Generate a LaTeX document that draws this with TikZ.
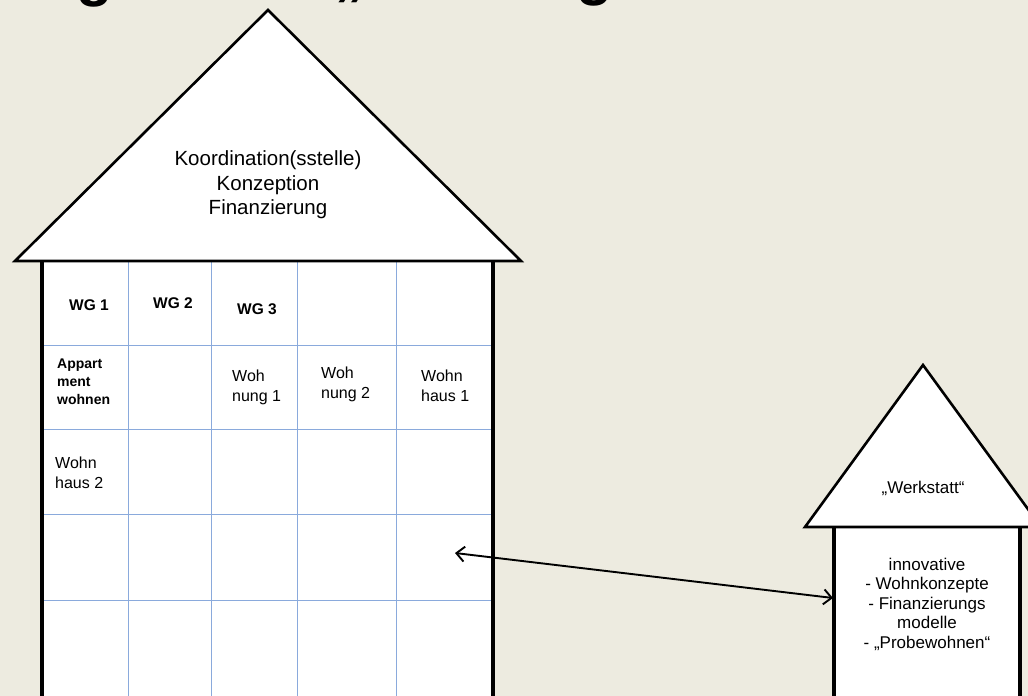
\documentclass[tikz,border=0pt]{standalone}
\usepackage{fontspec}
\setmainfont{Liberation Sans}
\usetikzlibrary{arrows.meta}

\definecolor{paper}{RGB}{237,235,224}
\definecolor{gridblue}{RGB}{138,170,220}

\tikzset{
  wall/.style={draw=black, line width=3.2pt},
  roof/.style={draw=black, fill=white, line width=2.6pt, line join=miter},
  gridline/.style={draw=gridblue, line width=1pt},
  cell/.style={inner sep=0pt, align=left, anchor=north west, font=\fontsize{16}{20}\selectfont},
  cellbold/.style={inner sep=0pt, font=\bfseries\fontsize{15.5}{19}\selectfont},
  rooftext/.style={inner sep=0pt, align=center, font=\fontsize{20.5}{24.5}\selectfont},
  smalltext/.style={inner sep=0pt, align=center, font=\fontsize{17}{19.5}\selectfont},
  titlebit/.style={inner sep=0pt, anchor=south, font=\bfseries\fontsize{60}{60}\selectfont},
  link/.style={draw=black, line width=1.9pt, {Straight Barb[length=8pt,width=15pt]}-{Straight Barb[length=8pt,width=15pt]}}
}

\begin{document}
\begin{tikzpicture}[x=1pt, y=-1pt]
  % background page
  \fill[paper] (0,0) rectangle (1028,696);
  \useasboundingbox (0,0) rectangle (1028,696);

  % lower ends of the heading line, cut off by the page edge
  \node[titlebit] (t1) at (95,7) {g};
  \node[titlebit] (t2) at (349,3) {„};
  \node[titlebit] (t3) at (595,6) {g};

  % ---------------- main house ----------------
  \fill[white] (42,261) rectangle (493,710);
  % room grid
  \foreach \x in {128,211,297,396}
    \draw[gridline] (\x,261) -- (\x,710);
  \foreach \y in {345,429,514,600}
    \draw[gridline] (42,\y) -- (493,\y);
  % side walls
  \draw[wall] (42,261) -- (42,710);
  \draw[wall] (493,261) -- (493,710);
  % roof
  \draw[roof] (15,261) -- (268,10) -- (521,261) -- cycle;

  \node[rooftext] (koord) at (268,185) {Koordination(sstelle)\\Konzeption\\Finanzierung};

  % room labels
  \node[cellbold] (wg1) at (89,305) {WG 1};
  \node[cellbold] (wg2) at (173,303) {WG 2};
  \node[cellbold] (wg3) at (257,309) {WG 3};
  \node[cell, font=\bfseries\fontsize{14}{18}\selectfont] (app) at (57,359) {Appart\\ment\\wohnen};
  \node[cell] (wohnung1) at (232,370) {Woh\\nung 1};
  \node[cell] (wohnung2) at (321,367) {Woh\\nung 2};
  \node[cell] (wohnhaus1) at (421,370) {Wohn\\haus 1};
  \node[cell] (wohnhaus2) at (55,457) {Wohn\\haus 2};

  % ---------------- workshop house ----------------
  \fill[white] (834,527) rectangle (1020,710);
  \draw[wall] (834,527) -- (834,710);
  \draw[wall] (1020,527) -- (1020,710);
  \draw[roof] (805,527) -- (923,365) -- (1041,527) -- cycle;

  \node[smalltext] (werkstatt) at (923,488) {„Werkstatt“};
  \node[smalltext] (innov) at (927,604) {innovative\\- Wohnkonzepte\\- Finanzierungs\\modelle\\- „Probewohnen“};

  % link between the two houses
  \coordinate (roomend) at (455,553);
  \coordinate (workend) at (833,598);
  \draw[link] (roomend) -- (workend);
\end{tikzpicture}
\end{document}
